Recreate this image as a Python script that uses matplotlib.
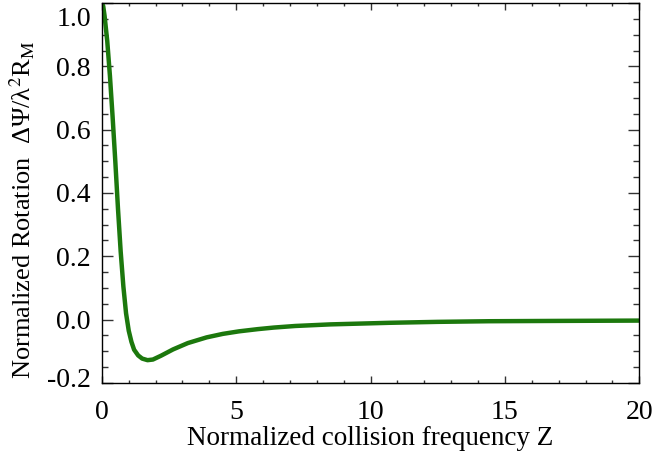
import matplotlib
matplotlib.use('Agg')
import matplotlib.pyplot as plt
from matplotlib.ticker import MultipleLocator
from matplotlib.transforms import ScaledTranslation

# values
z = [0.0, 0.05, 0.1, 0.2, 0.3, 0.4, 0.5, 0.6, 0.7, 0.8, 0.9, 1.0, 1.1, 1.2,
     1.35, 1.5, 1.7, 1.9, 2.2, 2.65, 3.2, 3.9, 4.5, 5.1, 5.8, 6.4, 7.2, 8.5,
     10.7, 12.5, 14.4, 17.0, 20.0]
rot = [1.0, 0.99, 0.96, 0.88, 0.77, 0.64, 0.50, 0.35, 0.215, 0.105, 0.02,
       -0.035, -0.07, -0.095, -0.113, -0.123, -0.128, -0.126, -0.114, -0.094,
       -0.074, -0.056, -0.045, -0.037, -0.030, -0.025, -0.020, -0.015,
       -0.010, -0.007, -0.005, -0.004, -0.003]

plt.rcParams['font.family'] = ['Liberation Serif', 'DejaVu Serif']
plt.rcParams['mathtext.fontset'] = 'stix'

fig = plt.figure(figsize=(6.53, 4.57), dpi=100)
ax = fig.add_axes([0.156, 0.162, 0.823, 0.8314])

ax.plot(z, rot, color='#1c780d', lw=3.2, solid_joinstyle='round')

ax.set_xlim(0, 20)
ax.set_ylim(-0.2, 1.0)
ax.xaxis.set_major_locator(MultipleLocator(5))
ax.xaxis.set_minor_locator(MultipleLocator(1))
ax.yaxis.set_major_locator(MultipleLocator(0.2))
ax.yaxis.set_minor_locator(MultipleLocator(0.05))
ax.yaxis.set_major_formatter(plt.FuncFormatter(lambda v, p: f'{v:.1f}'.replace('-0.0', '0.0')))

ax.tick_params(axis='both', which='both', direction='in', top=True, right=True,
               labelsize=20, width=1.0, color='#333333')
ax.tick_params(axis='x', which='major', length=5, pad=12)
ax.tick_params(axis='x', which='minor', length=2.5)
ax.tick_params(axis='y', which='major', length=8, pad=8)
ax.tick_params(axis='y', which='minor', length=4.5)
for s in ax.spines.values():
    s.set_linewidth(1.0)

ax.set_xlabel('Normalized collision frequency Z', fontsize=19.5, labelpad=1)
ax.set_ylabel('Normalized Rotation  ΔΨ/λ$^2$R$_{\\rm M}$', fontsize=19)
ax.yaxis.set_label_coords(-0.121, 0.455)

# keep the end labels inside the frame like the reference
fig.canvas.draw()
for lab in ax.get_yticklabels():
    t = lab.get_text()
    if t == '1.0':
        lab.set_transform(lab.get_transform() + ScaledTranslation(0, -10 / 72, fig.dpi_scale_trans))
    elif t == '-0.2':
        lab.set_transform(lab.get_transform() + ScaledTranslation(0, 4 / 72, fig.dpi_scale_trans))

fig.savefig('out.png', dpi=100)
